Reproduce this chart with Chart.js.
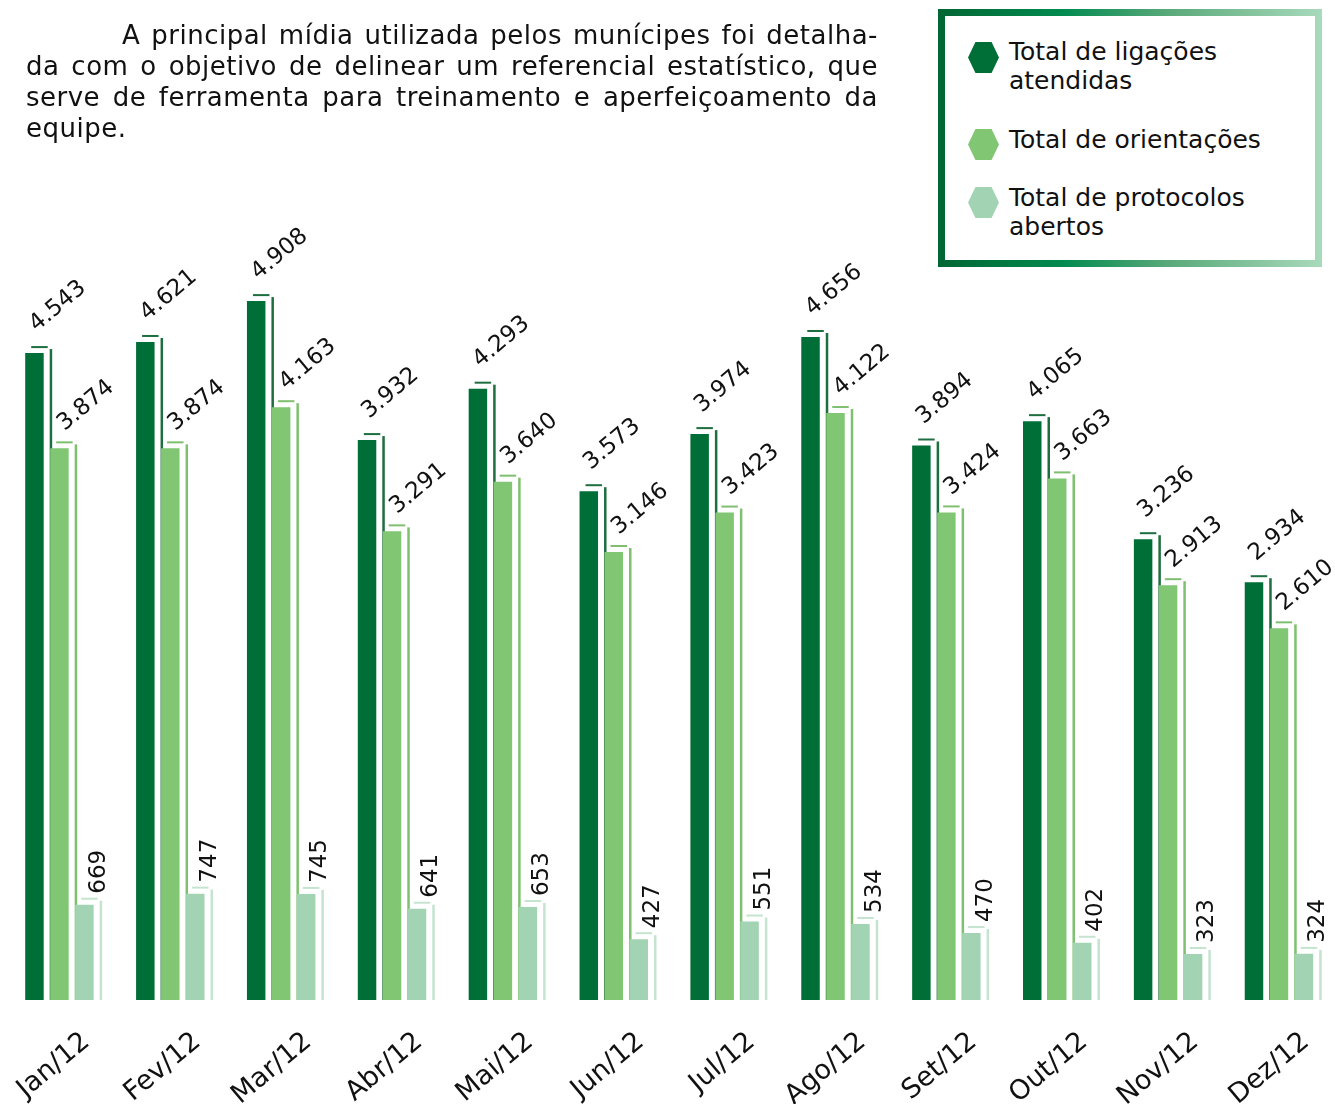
<!DOCTYPE html>
<html><head><meta charset="utf-8">
<script src="https://cdn.jsdelivr.net/npm/chart.js@4"></script>
<style>
html,body{margin:0;padding:0;background:#fff;width:1335px;height:1104px;overflow:hidden;font-family:"DejaVu Sans",Verdana,sans-serif;color:#111}
#chart{position:absolute;left:0;top:0}
.para{position:absolute;left:26px;top:20px;width:852px;font-size:26px;line-height:31px;letter-spacing:0.5px}
.para div{text-align:justify;text-align-last:justify;white-space:nowrap}
.para div.first{padding-left:96px}
.para div.last{text-align:left;text-align-last:left}
.legend{position:absolute;left:938px;top:9px;width:384px;height:258px;background:linear-gradient(90deg,#006633 0%,#008a4f 32%,#5aa97a 60%,#a8dabb 100%)}
.legend .inner{position:absolute;left:7px;top:7px;right:7px;bottom:7px;background:#fff}
.item{position:absolute;left:71px;font-size:25px;line-height:29px;color:#111}
.hex{position:absolute;left:30px;width:31px;height:31px;clip-path:polygon(24% 0,76% 0,100% 50%,76% 100%,24% 100%,0 50%)}
</style></head>
<body>
<canvas id="chart" width="1335" height="1104"></canvas>
<div class="para">
<div class="first">A principal mídia utilizada pelos munícipes foi detalha-</div>
<div>da com o objetivo de delinear um referencial estatístico, que</div>
<div>serve de ferramenta para treinamento e aperfeiçoamento da</div>
<div class="last">equipe.</div>
</div>
<div class="legend"><div class="inner"></div>
<div class="hex" id="h0" style="top:33px"></div><div class="item" id="t0" style="top:28px"></div>
<div class="hex" id="h1" style="top:120px"></div><div class="item" id="t1" style="top:116px"></div>
<div class="hex" id="h2" style="top:178px"></div><div class="item" id="t2" style="top:174px"></div>
</div>
<script>
const months = ['Jan/12','Fev/12','Mar/12','Abr/12','Mai/12','Jun/12','Jul/12','Ago/12','Set/12','Out/12','Nov/12','Dez/12'];
const ligacoes = [4543,4621,4908,3932,4293,3573,3974,4656,3894,4065,3236,2934];
const orientacoes = [3874,3874,4163,3291,3640,3146,3423,4122,3424,3663,2913,2610];
const protocolos = [669,747,745,641,653,427,551,534,470,402,323,324];
const seriesNames = [['Total de ligações','atendidas'],['Total de orientações'],['Total de protocolos','abertos']];
const colors = ['#006e37','#80c673','#a2d4b4'];
const sideColors = ['#1d6f3f','#7fc070','#c4e4d0'];

seriesNames.forEach((n,i)=>{
  document.getElementById('t'+i).innerHTML = n.join('<br>');
  document.getElementById('h'+i).style.background = colors[i];
});

function fmt(v){ return v>=1000 ? Math.floor(v/1000)+'.'+String(v%1000).padStart(3,'0') : String(v); }

const FONT = '"DejaVu Sans", Verdana, sans-serif';

const box3d = {
  id:'box3d',
  beforeDatasetsDraw(chart){
    const ctx = chart.ctx;
    ctx.save();
    chart.data.datasets.forEach((ds,i)=>{
      const meta = chart.getDatasetMeta(i);
      meta.data.forEach(bar=>{
        const p = bar.getProps(['x','y','base','width'],true);
        const l = p.x-p.width/2, r = p.x+p.width/2;
        ctx.fillStyle = sideColors[i];
        ctx.fillRect(r+6, p.y-4, 2.5, p.base-(p.y-4));
        ctx.fillRect(l+6, p.y-7, (r+4)-(l+6), 2);
      });
    });
    ctx.restore();
  }
};

const valueLabels = {
  id:'valueLabels',
  afterDatasetsDraw(chart){
    const ctx = chart.ctx;
    ctx.save();
    ctx.fillStyle = '#111';
    ctx.font = '23px ' + FONT;
    chart.data.datasets.forEach((ds,i)=>{
      const meta = chart.getDatasetMeta(i);
      meta.data.forEach((bar,j)=>{
        const p = bar.getProps(['x','y','width'],true);
        const txt = fmt(ds.data[j]);
        ctx.save();
        if(i===2){
          ctx.translate(p.x+p.width/2+11, p.y-11);
          ctx.rotate(-Math.PI/2);
        } else {
          const ax = i===0 ? p.x+2 : p.x+5;
          const ay = i===0 ? p.y-21 : p.y-17;
          ctx.translate(ax, ay);
          ctx.rotate(-40*Math.PI/180);
        }
        ctx.textAlign='left'; ctx.textBaseline='alphabetic';
        ctx.fillText(txt,0,0);
        ctx.restore();
      });
    });
    ctx.restore();
  }
};

new Chart(document.getElementById('chart'), {
  type:'bar',
  data:{
    labels: months,
    datasets:[
      {label: seriesNames[0].join(' '), data: ligacoes, backgroundColor: colors[0]},
      {label: seriesNames[1].join(' '), data: orientacoes, backgroundColor: colors[1]},
      {label: seriesNames[2].join(' '), data: protocolos, backgroundColor: colors[2]}
    ]
  },
  options:{
    responsive:false,
    animation:false,
    devicePixelRatio:1,
    categoryPercentage:0.676,
    barPercentage:0.74,
    layout:{padding:{top:288,left:4,right:0.6,bottom:0}},
    plugins:{legend:{display:false},tooltip:{enabled:false}},
    scales:{
      y:{display:false,min:0,max:5000},
      x:{
        grid:{display:false},
        border:{display:false},
        ticks:{
          font:{family:FONT,size:27},
          color:'#111',
          minRotation:40,maxRotation:40,
          autoSkip:false,
          labelOffset:27,
          padding:18
        },
        afterFit(scale){ scale.height = 104; scale.paddingLeft = 0; scale.paddingRight = 0; }
      }
    }
  },
  plugins:[box3d,valueLabels]
});
</script>
</body></html>
